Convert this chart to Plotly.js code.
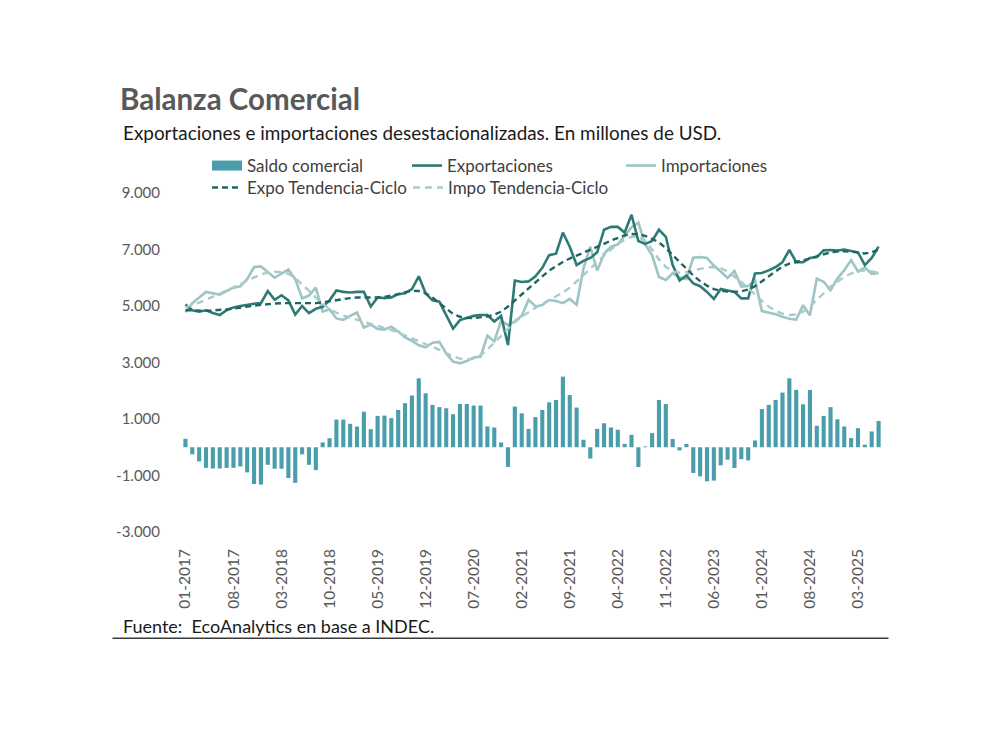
<!DOCTYPE html>
<html>
<head>
<meta charset="utf-8">
<script src="https://cdn.plot.ly/plotly-3.0.1.min.js"></script>
<style>
  html, body { margin: 0; padding: 0; background: #fff; }
  #chart { width: 992px; height: 731px; }
</style>
</head>
<body>
<div id="chart"></div>
<script>
// Monthly categories, 01-2017 through 06-2025
const months = [];
for (let y = 2017; y <= 2025; y++) {
  for (let m = 1; m <= 12; m++) {
    if (months.length < 102) months.push(String(m).padStart(2, '0') + '-' + y);
  }
}
// one axis label every seven months
const tickLabels = months.filter((_, i) => i % 7 === 0);

const yTickVals = [-3000, -1000, 1000, 3000, 5000, 7000, 9000];
const yTickText = ['-3.000', '-1.000', '1.000', '3.000', '5.000', '7.000', '9.000'];

// Trade balance (millions of USD)
const saldo = [
  300, -250, -500, -730, -750, -750, -730, -730, -680, -890, -1300, -1320,
  -620, -760, -760, -1090, -1260, -250, -620, -810, 170, 320, 980, 980,
  830, 735, 1260, 640, 1110, 1120, 1030, 1320, 1560, 1830, 2440, 1910,
  1500, 1420, 1380, 1170, 1530, 1530, 1475, 1475, 735, 700, 170, -700,
  1440, 1200, 650, 1065, 1320, 1590, 1675, 2500, 1850, 1405, 265, -400,
  650, 850, 700, 620, 120, 440, -700, 30, 500, 1675, 1530, 290,
  -110, 120, -910, -1030, -1205, -1180, -640, -440, -735, -420, -465, 240,
  1350, 1500, 1675, 1935, 2440, 2030, 1520, 2030, 760, 1110, 1420, 990,
  735, 325, 675, 90, 560, 930
];

// Seasonally adjusted exports
const expo = [
  5050, 4850, 4800, 4850, 4750, 4680, 4850, 4950, 5000, 5050, 5080, 5100,
  5530, 5220, 5380, 5200, 4700, 5000, 4750, 4900, 4970, 5200, 5550, 5500,
  5480, 5500, 5500, 4980, 5300, 5280, 5300, 5420, 5450, 5600, 6050, 5450,
  5200, 5150, 4700, 4200, 4500, 4580, 4650, 4680, 4680, 4450, 4650, 3620,
  5900, 5850, 5870, 6050, 6350, 6800, 6850, 7600, 7100, 6450, 6600, 6700,
  6900, 7700, 7800, 7800, 7600, 8230, 7300, 7200, 7300, 7700, 7450, 6450,
  5900, 6080, 5800, 5700, 5500, 5250, 5600, 5550, 5500, 5270, 5270, 6150,
  6170, 6260, 6380, 6550, 6990, 6550, 6550, 6700, 6730, 6970, 6980, 6960,
  7000, 6950, 6900, 6450, 6700, 7100
];

// Seasonally adjusted imports
const impo = [
  4780, 5100, 5300, 5500, 5450, 5400, 5530, 5650, 5700, 5950, 6380, 6400,
  6200, 6000, 6150, 6290, 5950, 5270, 5370, 5650, 4800, 4880, 4560, 4510,
  4650, 4770, 4240, 4340, 4190, 4160, 4270, 4100, 3890, 3770, 3610, 3540,
  3700, 3730, 3320, 3030, 2970, 3050, 3180, 3200, 3950, 3750, 4480, 4320,
  4460, 4650, 5220, 4985, 5030, 5210, 5175, 5100, 5250, 5045, 6335, 7100,
  6250, 6850, 7100, 7180, 7480, 7790, 7950, 7170, 6800, 6025, 5920, 6160,
  6010, 5960, 6710, 6730, 6700, 6430, 6220, 5990, 6235, 5690, 5710, 5910,
  4820, 4760, 4705, 4615, 4550, 4520, 5030, 4670, 5970, 5860, 5560, 5970,
  6265, 6625, 6225, 6360, 6140, 6170
];

// Trend-cycle components
const expoTend = [
  4850, 4840, 4830, 4830, 4840, 4850, 4880, 4910, 4950, 4980, 5010, 5040,
  5070, 5090, 5100, 5100, 5090, 5080, 5080, 5100, 5130, 5170, 5210, 5250,
  5280, 5300, 5300, 5290, 5300, 5320, 5360, 5420, 5490, 5540, 5530, 5450,
  5300, 5100, 4900, 4720, 4620, 4580, 4570, 4590, 4630, 4690, 4800, 4980,
  5200, 5420, 5640, 5850, 6050, 6250, 6420, 6560, 6680, 6780, 6880, 6980,
  7080, 7200, 7320, 7420, 7500, 7550, 7540, 7480, 7380, 7250, 7050, 6800,
  6550, 6300, 6080, 5880, 5720, 5600, 5540, 5510, 5500, 5520, 5580, 5700,
  5880, 6070, 6250, 6400, 6500, 6560, 6610, 6680, 6760, 6840, 6900, 6930,
  6940, 6920, 6880, 6860, 6900, 7000
];

const impoTend = [
  4950, 5030, 5120, 5220, 5330, 5440, 5540, 5650, 5770, 5900, 6020, 6120,
  6180, 6210, 6200, 6140, 5990, 5780, 5540, 5300, 5080, 4900, 4760, 4660,
  4580, 4510, 4440, 4370, 4300, 4230, 4150, 4060, 3960, 3860, 3760, 3660,
  3560, 3450, 3330, 3220, 3140, 3110, 3140, 3260, 3460, 3700, 3960, 4210,
  4430, 4620, 4790, 4940, 5070, 5200, 5330, 5480, 5650, 5860, 6090, 6330,
  6560, 6790, 7000, 7190, 7350, 7450, 7450, 7300, 7000, 6650, 6380, 6220,
  6180, 6200, 6260, 6320, 6370, 6380, 6340, 6220, 6050, 5850, 5630, 5400,
  5180, 4980, 4830, 4730, 4680, 4700, 4800, 4980, 5200, 5450, 5680, 5870,
  6030, 6150, 6230, 6260, 6230, 6180
];

const FONT = 'Lato, "Open Sans", sans-serif';
const C_BAR = '#4a9dab';
const C_EXPO = '#2e7a76';
const C_IMPO = '#9fc4c4';
const C_EXPO_T = '#1f6662';
const C_IMPO_T = '#a8cbcb';

// plot area in page pixels
const W = 992, H = 731;
const plotL = 181.6, plotR = 882.5, plotT = 192.5, plotB = 532.5;
const px = x => (x - plotL) / (plotR - plotL);
const py = y => (plotB - y) / (plotB - plotT);

const traces = [
  { type: 'bar', x: months, y: saldo, marker: { color: C_BAR }, showlegend: false, hoverinfo: 'x+y' },
  // legend swatch for the balance bars
  { type: 'scatter', mode: 'lines', x: [null], y: [null], name: 'Saldo comercial',
    line: { color: C_BAR, width: 10 }, legend: 'legend' },
  { type: 'scatter', mode: 'lines', x: months, y: impo, name: 'Importaciones',
    line: { color: C_IMPO, width: 2.6 }, legend: 'legend3' },
  { type: 'scatter', mode: 'lines', x: months, y: expo, name: 'Exportaciones',
    line: { color: C_EXPO, width: 2.6 }, legend: 'legend2' },
  { type: 'scatter', mode: 'lines', x: months, y: impoTend, name: 'Impo Tendencia-Ciclo',
    line: { color: C_IMPO_T, width: 2.4, dash: '7px,5px' }, legend: 'legend5' },
  { type: 'scatter', mode: 'lines', x: months, y: expoTend, name: 'Expo Tendencia-Ciclo',
    line: { color: C_EXPO_T, width: 2.4, dash: '6px,4px' }, legend: 'legend4' }
];

function legendAt(xpx, ypx) {
  return {
    xref: 'container', yref: 'container',
    x: xpx / W, y: 1 - ypx / H, xanchor: 'left', yanchor: 'middle',
    orientation: 'h', bgcolor: 'rgba(0,0,0,0)', borderwidth: 0,
    font: { family: FONT, size: 17, color: '#404040' },
    itemclick: false, itemdoubleclick: false
  };
}

const layout = {
  width: W, height: H,
  paper_bgcolor: '#ffffff', plot_bgcolor: '#ffffff',
  font: { family: FONT, color: '#595959' },
  margin: { l: plotL, r: W - plotR, t: plotT, b: H - plotB, pad: 0, autoexpand: false },
  bargap: 0.4,
  title: {
    text: '<b>Balanza Comercial</b>',
    font: { family: FONT, size: 29.5, color: '#595959' },
    xref: 'container', yref: 'container',
    x: 120 / W, xanchor: 'left', y: 1 - 100 / H, yanchor: 'middle', automargin: false
  },
  xaxis: {
    type: 'category', range: [-0.5, 101.5],
    tickmode: 'array', tickvals: tickLabels, ticktext: tickLabels,
    tickangle: -90, ticks: '', showgrid: false, zeroline: false, showline: false,
    tickfont: { family: FONT, size: 15.5, color: '#595959' },
    ticklabelstandoff: 13, automargin: false
  },
  yaxis: {
    range: [-3000, 9000], tickmode: 'array', tickvals: yTickVals, ticktext: yTickText,
    ticks: '', showgrid: false, zeroline: false, showline: false,
    tickfont: { family: FONT, size: 15, color: '#595959' },
    ticklabelstandoff: 21, automargin: false
  },
  legend: legendAt(207, 166),
  legend2: legendAt(407, 166),
  legend3: legendAt(621, 166),
  legend4: legendAt(207, 188),
  legend5: legendAt(408, 188),
  annotations: [
    { xref: 'paper', yref: 'paper', x: px(121), y: py(132), xanchor: 'left', yanchor: 'middle',
      text: 'Exportaciones e importaciones desestacionalizadas. En millones de USD.',
      showarrow: false, font: { family: FONT, size: 18.9, color: '#1a1a1a' } },
    { xref: 'paper', yref: 'paper', x: px(121), y: py(627), xanchor: 'left', yanchor: 'middle',
      text: 'Fuente:  EcoAnalytics en base a INDEC.',
      showarrow: false, font: { family: FONT, size: 18, color: '#1a1a1a' } }
  ],
  shapes: [
    { type: 'line', xref: 'paper', yref: 'paper', x0: px(112), x1: px(889), y0: py(639), y1: py(639),
      line: { color: '#3a3a3a', width: 1.5 } }
  ]
};

Plotly.newPlot('chart', traces, layout, { displayModeBar: false, staticPlot: true });
</script>
</body>
</html>
